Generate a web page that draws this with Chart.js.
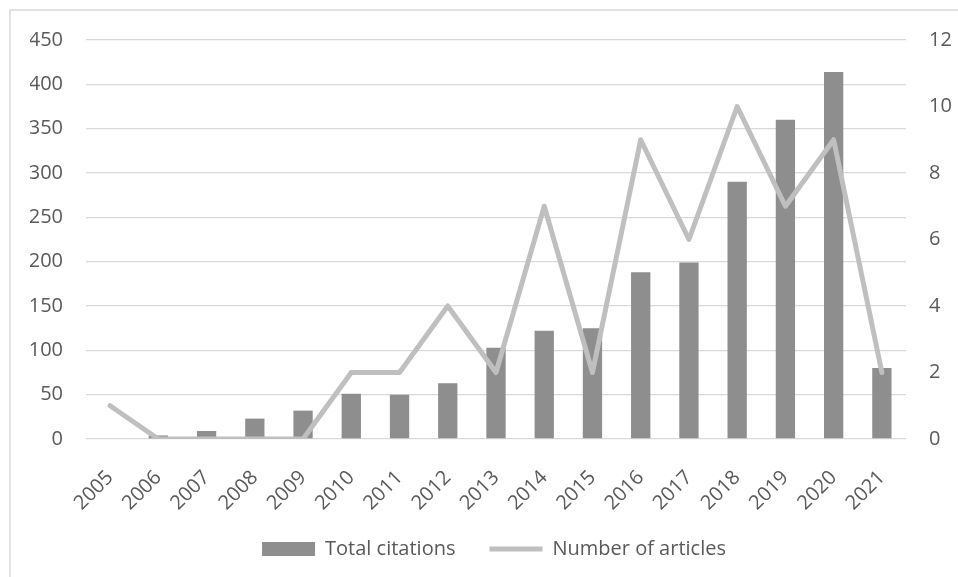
<!DOCTYPE html>
<html>
<head>
<meta charset="utf-8">
<title>Total citations and number of articles, 2005–2021</title>
<script src="https://cdn.jsdelivr.net/npm/chart.js@4"></script>
<style>
  html, body { margin: 0; padding: 0; background: #ffffff; }
  #wrap { position: relative; width: 958px; height: 577px; }
</style>
</head>
<body>
<div id="wrap"><canvas id="chart" width="958" height="577"></canvas></div>
<script>
// Publication years on the category axis
const years = ['2005', '2006', '2007', '2008', '2009', '2010', '2011', '2012', '2013',
               '2014', '2015', '2016', '2017', '2018', '2019', '2020', '2021'];

// Total citations per year (left axis)
const totalCitations = [0, 4, 9, 23, 32, 51, 50, 63, 103, 122, 125, 188, 199, 290, 360, 414, 80];

// Number of articles per year (right axis)
const numberOfArticles = [1, 0, 0, 0, 0, 2, 2, 4, 2, 7, 2, 9, 6, 10, 7, 9, 2];

// Axis ranges and tick steps
const citationAxis = { min: 0, max: 450, step: 50 };
const articleAxis = { min: 0, max: 12, step: 2 };

const FONT = { family: '"Open Sans", Lato, sans-serif', size: 20 };
const TEXT = '#595959';
const GRID = '#d9d9d9';

// Thin outer frame around the chart
const framePlugin = {
  id: 'frame',
  beforeDraw(chart) {
    const ctx = chart.ctx;
    ctx.save();
    ctx.strokeStyle = '#d9d9d9';
    ctx.lineWidth = 1.5;
    ctx.strokeRect(10, 10, chart.width + 20, chart.height + 20);
    ctx.restore();
  }
};

// The x axis box is kept short so the legend sits close; let its rotated
// year labels draw past the box instead of being clipped to it.
const unclipYearLabels = {
  id: 'unclipYearLabels',
  afterLayout(chart) {
    const x = chart.scales.x;
    if (x) x._computeLabelArea = () => undefined;
  }
};

new Chart(document.getElementById('chart'), {
  data: {
    labels: years,
    datasets: [
      {
        type: 'bar',
        label: 'Total citations',
        data: totalCitations,
        yAxisID: 'y',
        backgroundColor: '#8e8e8e',
        borderWidth: 0,
        barPercentage: 0.4,
        categoryPercentage: 1.0,
        pointStyle: 'rect',
        order: 1
      },
      {
        type: 'line',
        label: 'Number of articles',
        data: numberOfArticles,
        yAxisID: 'y1',
        borderColor: '#bfbfbf',
        backgroundColor: '#bfbfbf',
        borderWidth: 5,
        borderCapStyle: 'round',
        borderJoinStyle: 'round',
        tension: 0,
        pointRadius: 0,
        pointHoverRadius: 0,
        pointStyle: 'line',
        order: 0
      }
    ]
  },
  options: {
    responsive: false,
    animation: false,
    layout: { padding: { left: 30, right: 0, top: 40, bottom: 8 } },
    plugins: {
      tooltip: { enabled: false },
      legend: {
        position: 'bottom',
        labels: {
          font: FONT,
          color: TEXT,
          usePointStyle: true,
          pointStyleWidth: 53,
          boxWidth: 53,
          boxHeight: 14,
          padding: 34,
          sort: (a, b) => a.datasetIndex - b.datasetIndex
        }
      }
    },
    scales: {
      x: {
        grid: { display: false, drawTicks: false },
        border: { display: false },
        ticks: {
          font: FONT,
          color: TEXT,
          minRotation: 45,
          maxRotation: 45,
          autoSkip: false,
          padding: 27
        },
        afterFit(scale) { scale.height = 66; }
      },
      y: {
        position: 'left',
        min: citationAxis.min,
        max: citationAxis.max,
        grid: { color: GRID, lineWidth: 1.3, drawTicks: false },
        border: { display: false },
        ticks: { stepSize: citationAxis.step, font: FONT, color: TEXT, padding: 23 },
        afterFit(scale) { scale.width = 56; }
      },
      y1: {
        position: 'right',
        min: articleAxis.min,
        max: articleAxis.max,
        grid: { display: false, drawTicks: false },
        border: { display: false },
        ticks: { stepSize: articleAxis.step, font: FONT, color: TEXT, padding: 23 },
        afterFit(scale) { scale.width = 52; }
      }
    }
  },
  plugins: [framePlugin, unclipYearLabels]
});
</script>
</body>
</html>
